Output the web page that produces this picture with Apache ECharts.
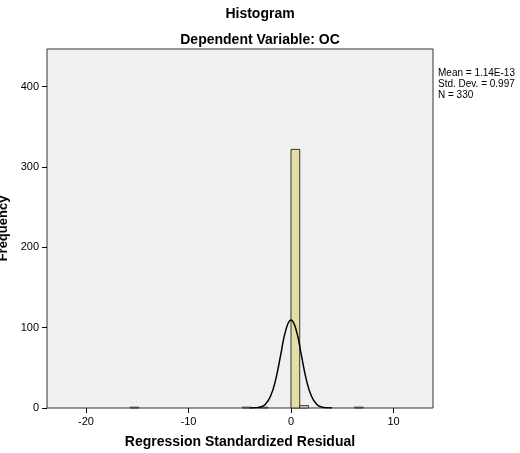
<!DOCTYPE html><html><head><meta charset="utf-8"><script src="https://cdn.jsdelivr.net/npm/echarts@6/dist/echarts.min.js"></script></head><body style="margin:0;background:#fff"><div id="c" style="width:520px;height:453px"></div><script>
const binStarts=[-15.7,-4.75,-3.1,0,0.85,6.2];
const binEnds=[-14.85,-3.9,-2.25,0.85,1.7,7.05];
const binCounts=[1,1,1,322,3,1];
const curveX=[-4,-3.5,-3,-2.5,-2,-1.5,-1,-0.5,0,0.5,1,1.5,2,2.5,3,3.5,4];
const curveY=[0.03,0.23,1.2,4.8,14.7,35.0,66.4,97.3,109.6,97.3,66.4,35.0,14.7,4.8,1.2,0.23,0.03];
const yTicks=[0,100,200,300,400];
const xTicks=[-20,-10,0,10];
const chart=echarts.init(document.getElementById('c'));
const f='Arial, Liberation Sans, sans-serif';
chart.setOption({
 animation:false,
 title:[{text:'Histogram',left:'center',top:2,textStyle:{fontFamily:f,fontSize:14,fontWeight:'bold',color:'#000'}},
  {text:'Dependent Variable: OC',left:'center',top:28,textStyle:{fontFamily:f,fontSize:14,fontWeight:'bold',color:'#000'}}],
 graphic:[{type:'text',left:438,top:68,style:{text:'Mean = 1.14E-13\nStd. Dev. = 0.997\nN = 330',font:'10px '+f,fill:'#000',lineHeight:11}}],
 grid:{left:47,right:87,top:49,bottom:45,containLabel:false,outerBoundsMode:'none',show:true,backgroundColor:'#f0f0f0',borderColor:'#333',borderWidth:1},
 xAxis:{type:'value',min:-23.8,max:13.85,name:'Regression Standardized Residual',nameLocation:'middle',nameGap:27,
  nameTextStyle:{fontFamily:f,fontSize:14,fontWeight:'bold',color:'#000'},
  axisLine:{show:false,onZero:false},splitLine:{show:false},axisTick:{show:true,length:5,lineStyle:{color:'#000'},customValues:xTicks},
  axisLabel:{customValues:xTicks,color:'#000',fontFamily:f,fontSize:11}},
 yAxis:{type:'value',min:0,max:447,name:'Frequency',nameLocation:'middle',nameGap:34,
  nameTextStyle:{fontFamily:f,fontSize:13,fontWeight:'bold',color:'#000'},
  axisLine:{show:false,onZero:false},splitLine:{show:false},axisTick:{show:true,length:5,lineStyle:{color:'#000'},customValues:yTicks},
  axisLabel:{customValues:yTicks,color:'#000',fontFamily:f,fontSize:11}},
 series:[{type:'custom',data:binStarts.map((s,i)=>[s,binEnds[i],binCounts[i]]),
   renderItem:(p,api)=>{const a=api.coord([api.value(0),api.value(2)]),b=api.coord([api.value(1),0]);
    return {type:'rect',shape:{x:a[0],y:a[1],width:b[0]-a[0],height:b[1]-a[1]},style:{fill:'#e3dda6',stroke:'#333',lineWidth:1}};},
   encode:{x:[0,1],y:2}},
  {type:'line',data:curveX.map((x,i)=>[x,curveY[i]]),smooth:true,showSymbol:false,lineStyle:{color:'#000',width:1.5}}]
});
</script></body></html>
